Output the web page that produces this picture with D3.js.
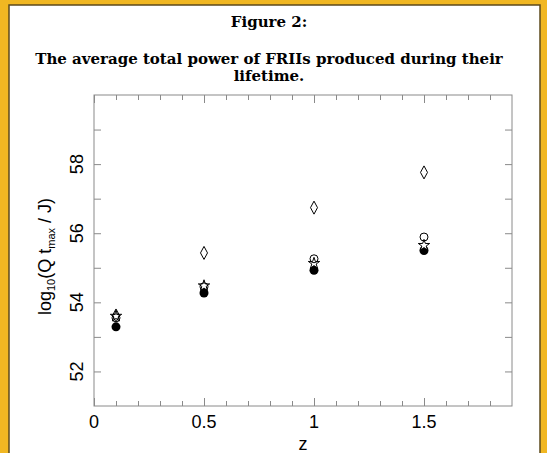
<!DOCTYPE html>
<html>
<head>
<meta charset="utf-8">
<script src="https://cdn.jsdelivr.net/npm/d3@7"></script>
<style>
  body { margin: 0; background: #ffffff; }
  svg { display: block; }
</style>
</head>
<body>
<div id="vis"></div>
<script>
// redshift values
const REDSHIFTS = [0.1, 0.5, 1.0, 1.5];

// log10(Q tmax / J) for each model
const FILLED_CIRCLES = [53.29, 54.27, 54.93, 55.50];
const STARS = [53.60, 54.48, 55.13, 55.65];
const OPEN_CIRCLES = [53.55, 54.45, 55.26, 55.89];
const DIAMONDS = [53.62, 55.43, 56.74, 57.76];

// tick values
const X_TICKS = [0, 0.5, 1, 1.5];
const X_MINOR = d3.range(0, 19).map(d => d / 10);
const Y_TICKS = [52, 54, 56, 58];
const Y_MINOR = [52, 53, 54, 55, 56, 57, 58, 59];

// frame
const FRAME_WIDTH = 547;
const FRAME_HEIGHT = 453;
const MARGINS = {left: 94, right: 35, top: 95, bottom: 47};
const VIS_WIDTH = FRAME_WIDTH - MARGINS.left - MARGINS.right;
const VIS_HEIGHT = FRAME_HEIGHT - MARGINS.top - MARGINS.bottom;

const FRAME = d3.select("#vis")
  .append("svg")
  .attr("width", FRAME_WIDTH)
  .attr("height", FRAME_HEIGHT);

// orange page border
const ORANGE = "#f1b722";
FRAME.append("rect").attr("x", 0).attr("y", 0).attr("width", FRAME_WIDTH).attr("height", FRAME_HEIGHT).attr("fill", ORANGE);
FRAME.append("rect").attr("x", 9).attr("y", 5).attr("width", 531).attr("height", FRAME_HEIGHT).attr("fill", "white")
  .attr("stroke", "#5c4a1c").attr("stroke-width", 1.5);

// titles
const SERIF = "'DejaVu Serif', serif";
FRAME.append("text").attr("x", 269).attr("y", 27).attr("text-anchor", "middle")
  .attr("font-family", SERIF).attr("font-weight", "bold").attr("font-size", 15)
  .text("Figure 2:");
FRAME.append("text").attr("x", 269).attr("y", 64).attr("text-anchor", "middle")
  .attr("font-family", SERIF).attr("font-weight", "bold").attr("font-size", 15)
  .text("The average total power of FRIIs produced during their");
FRAME.append("text").attr("x", 269).attr("y", 81).attr("text-anchor", "middle")
  .attr("font-family", SERIF).attr("font-weight", "bold").attr("font-size", 15)
  .text("lifetime.");

// scales
const X_SCALE = d3.scaleLinear().domain([0, 1.9]).range([0, VIS_WIDTH]);
const Y_SCALE = d3.scaleLinear().domain([51, 60]).range([VIS_HEIGHT, 0]);

const PLOT = FRAME.append("g")
  .attr("transform", "translate(" + MARGINS.left + "," + MARGINS.top + ")");

const AXIS_COLOR = "#8a8a8a";
const SANS = "'Liberation Sans', Arial, sans-serif";

// box
PLOT.append("rect").attr("width", VIS_WIDTH).attr("height", VIS_HEIGHT)
  .attr("fill", "none").attr("stroke", AXIS_COLOR).attr("stroke-width", 1);

// inward ticks on all four sides
function isMajorX(d) { return X_TICKS.some(t => Math.abs(t - d) < 1e-9); }

PLOT.append("g").call(d3.axisBottom(X_SCALE).tickValues(X_MINOR).tickFormat("").tickSizeInner(0).tickSizeOuter(0))
  .call(g => g.select(".domain").remove())
  .attr("transform", "translate(0," + VIS_HEIGHT + ")")
  .selectAll(".tick line").attr("y2", d => isMajorX(d) ? -8 : -5).attr("stroke", AXIS_COLOR);

PLOT.append("g").call(d3.axisTop(X_SCALE).tickValues(X_MINOR).tickFormat("").tickSizeInner(0).tickSizeOuter(0))
  .call(g => g.select(".domain").remove())
  .selectAll(".tick line").attr("y2", d => isMajorX(d) ? 8 : 5).attr("stroke", AXIS_COLOR);

PLOT.append("g").call(d3.axisLeft(Y_SCALE).tickValues(Y_MINOR).tickFormat("").tickSizeInner(-7).tickSizeOuter(0))
  .call(g => g.select(".domain").remove())
  .selectAll(".tick line").attr("stroke", AXIS_COLOR);

PLOT.append("g").attr("transform", "translate(" + VIS_WIDTH + ",0)")
  .call(d3.axisRight(Y_SCALE).tickValues(Y_MINOR).tickFormat("").tickSizeInner(-7).tickSizeOuter(0))
  .call(g => g.select(".domain").remove())
  .selectAll(".tick line").attr("stroke", AXIS_COLOR);

// tick labels
PLOT.selectAll(".xlabel").data(X_TICKS).enter().append("text")
  .attr("x", d => X_SCALE(d)).attr("y", VIS_HEIGHT + 22)
  .attr("text-anchor", "middle").attr("font-family", SANS).attr("font-size", 18)
  .text(d => d);

PLOT.selectAll(".ylabel").data(Y_TICKS).enter().append("text")
  .attr("transform", d => "translate(-11," + Y_SCALE(d) + ") rotate(-90)")
  .attr("text-anchor", "middle").attr("font-family", SANS).attr("font-size", 18)
  .text(d => d);

// axis titles
PLOT.append("text").attr("x", VIS_WIDTH / 2).attr("y", VIS_HEIGHT + 44)
  .attr("text-anchor", "middle").attr("font-family", SANS).attr("font-size", 18)
  .text("z");

const YTITLE = PLOT.append("text")
  .attr("transform", "translate(-43," + (VIS_HEIGHT / 2 + 6) + ") rotate(-90)")
  .attr("text-anchor", "middle").attr("font-family", SANS).attr("font-size", 18);
YTITLE.append("tspan").text("log");
YTITLE.append("tspan").attr("font-size", 11).attr("dy", 4).text("10");
YTITLE.append("tspan").attr("dy", -4).text("(Q t");
YTITLE.append("tspan").attr("font-size", 11).attr("dy", 4).text("max");
YTITLE.append("tspan").attr("dy", -4).text(" / J)");

// markers
const starPath = d3.symbol().type(d3.symbolStar).size(40)();
const diamondPath = "M0,-6.5L3.5,0L0,6.5L-3.5,0Z";

function series(values) {
  return values.map((v, i) => ({x: REDSHIFTS[i], y: v}));
}

PLOT.selectAll(".filled").data(series(FILLED_CIRCLES)).enter().append("circle")
  .attr("cx", d => X_SCALE(d.x)).attr("cy", d => Y_SCALE(d.y))
  .attr("r", 4.5).attr("fill", "black");

PLOT.selectAll(".star").data(series(STARS)).enter().append("path")
  .attr("d", starPath)
  .attr("transform", d => "translate(" + X_SCALE(d.x) + "," + Y_SCALE(d.y) + ")")
  .attr("fill", "white").attr("stroke", "black").attr("stroke-width", 1);

PLOT.selectAll(".open").data(series(OPEN_CIRCLES)).enter().append("circle")
  .attr("cx", d => X_SCALE(d.x)).attr("cy", d => Y_SCALE(d.y))
  .attr("r", 4).attr("fill", "none").attr("stroke", "black").attr("stroke-width", 1);

PLOT.selectAll(".diamond").data(series(DIAMONDS)).enter().append("path")
  .attr("d", diamondPath)
  .attr("transform", d => "translate(" + X_SCALE(d.x) + "," + Y_SCALE(d.y) + ")")
  .attr("fill", "none").attr("stroke", "black").attr("stroke-width", 1);
</script>
</body>
</html>
